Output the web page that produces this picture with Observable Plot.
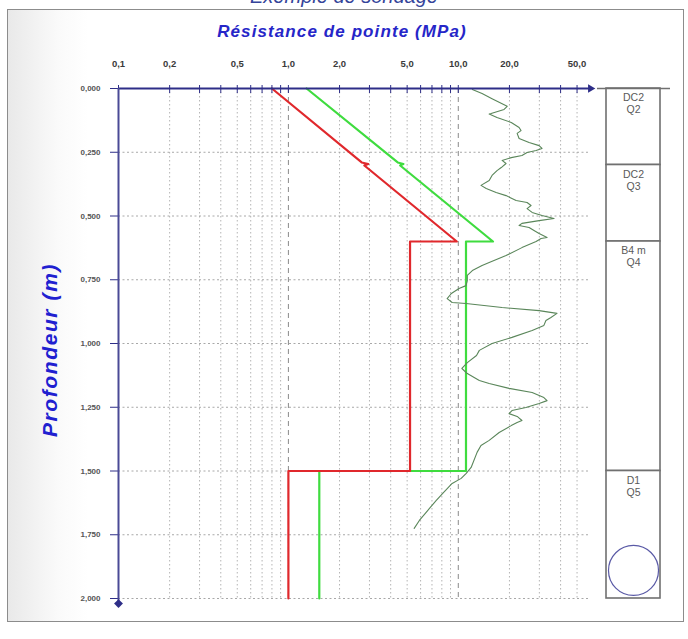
<!DOCTYPE html>
<html><head><meta charset="utf-8">
<script src="https://cdn.jsdelivr.net/npm/d3@7"></script>
<script src="https://cdn.jsdelivr.net/npm/@observablehq/plot@0.6"></script>
<style>
body{margin:0;background:#fff;font-family:"Liberation Sans",Arial,sans-serif;}
#wrap{position:relative;width:688px;height:639px;overflow:hidden;background:#fff;}
#frame{position:absolute;left:7px;top:9px;width:675px;height:611px;border:1px solid #8c8c8c;background:linear-gradient(to right,#e9e9e9 0,#fafafa 50px,#fff 80px);}
#top{position:absolute;left:0;width:688px;top:-14px;text-align:center;font-size:20px;line-height:20px;font-style:italic;color:#34449a;}
#xlab{position:absolute;left:0;width:684px;top:22px;text-align:center;font-size:17px;font-weight:bold;font-style:italic;color:#2626c8;letter-spacing:1.1px;}
#ylab{position:absolute;left:50px;top:350px;transform:translate(-50%,-50%) rotate(-90deg);white-space:nowrap;font-size:21px;font-weight:bold;font-style:italic;color:#2020d0;letter-spacing:1.6px;}
.plot{position:absolute;top:0;}
</style></head>
<body>
<div id="wrap">
  <div id="frame"></div>
  <div id="top">Exemple de sondage</div>
  <div id="xlab">Résistance de pointe (MPa)</div>
  <div id="ylab">Profondeur (m)</div>
</div>
<script>
// ---- data ----
const xTicks = [0.1,0.2,0.3,0.4,0.5,0.6,0.7,0.8,0.9,1,2,3,4,5,6,7,8,9,10,20,30,40,50];
const xLabels = [0.1,0.2,0.5,1,2,5,10,20,50];
const decadeLines = [1,10];
const yTicks = [0,0.25,0.5,0.75,1.0,1.25,1.5,1.75,2.0];

const redDepth = [0, 0.29, 0.296, 0.302, 0.6, 0.6, 1.5, 1.5, 2.0];
const redQc    = [0.8, 2.7, 2.95, 2.8, 9.8, 5.2, 5.2, 1.0, 1.0];
const greenDepth = [0, 0.29, 0.296, 0.302, 0.6, 0.6, 1.5, 1.5, 2.0];
const greenQc    = [1.28, 4.4, 4.75, 4.55, 16.0, 11.1, 11.1, 1.52, 1.52];

const traceDepth = [0.004,0.02,0.04,0.07,0.082,0.098,0.10,0.114,0.133,0.153,0.165,0.176,0.196,0.212,0.224,0.235,0.243,0.251,0.263,0.271,0.282,0.294,0.31,0.322,0.341,0.361,0.38,0.392,0.408,0.42,0.439,0.447,0.459,0.471,0.486,0.498,0.51,0.518,0.529,0.537,0.545,0.557,0.569,0.584,0.588,0.6,0.624,0.655,0.682,0.694,0.714,0.733,0.753,0.773,0.784,0.804,0.824,0.839,0.843,0.859,0.871,0.882,0.898,0.91,0.929,0.949,0.976,1.0,1.027,1.047,1.075,1.098,1.118,1.145,1.157,1.176,1.192,1.212,1.224,1.235,1.251,1.263,1.275,1.286,1.302,1.31,1.322,1.349,1.38,1.4,1.427,1.486,1.51,1.529,1.549,1.588,1.616,1.655,1.694,1.725];
const traceQc = [12.1,13.8,15.8,19.4,18.6,15.6,15.2,16.9,20.5,22.8,23.4,22.2,22.8,26.1,29.9,31.1,28.7,25.4,23.7,20.5,18.1,19.1,17.9,16.9,15.8,15.2,13.6,14.6,16.7,19.1,21.9,25.4,26.8,25.4,27.2,31.1,36.6,29.9,23.7,22.8,26.1,27.9,29.9,33.3,30.7,28.7,23.7,19.1,15.2,13.8,12.1,11.3,11.3,11.1,10.1,9.1,8.6,9.2,11.1,18.1,29.9,38.1,35.1,32.8,31.9,27.2,20.7,15.8,13.3,12.8,11.3,10.5,11.3,13.3,15.2,19.9,27.2,31.9,33.3,29.9,25.0,20.7,19.9,22.2,23.7,22.2,20.5,17.4,15.2,13.6,12.9,11.9,11.1,10.4,9.2,8.1,7.4,6.6,5.9,5.5];

const layerTop = [0, 0.3, 0.6, 1.5];
const layerBottom = [0.3, 0.6, 1.5, 2.0];
const layerCode = ["DC2","DC2","B4 m","D1"];
const layerClass = ["Q2","Q3","Q4","Q5"];
const endMarkerDepth = 1.89;

// ---- tables ----
const red = redDepth.map((z,i)=>({z, q: redQc[i]}));
const green = greenDepth.map((z,i)=>({z, q: greenQc[i]}));
const trace = traceDepth.map((z,i)=>({z, q: traceQc[i]}));
const layers = layerTop.map((t,i)=>({top:t, bottom:layerBottom[i], code:layerCode[i], cls:layerClass[i]}));

const fmt1 = d => d.toFixed(1).replace(".", ",");
const fmt3 = d => d.toFixed(3).replace(".", ",");
const navy = "#2e2e88";
const minor = xTicks.filter(d => !decadeLines.includes(d) && d !== 0.1);

const main = Plot.plot({
  width: 688, height: 639,
  marginLeft: 118, marginRight: 98, marginTop: 88, marginBottom: 41,
  style: {fontFamily: "'Liberation Sans', Arial, sans-serif", background: "transparent", overflow: "visible"},
  x: {type: "log", domain: [0.1, 60], axis: null},
  y: {domain: [0, 2], reverse: true, axis: null},
  marks: [
    Plot.ruleX(minor, {y1: 0, y2: 2, stroke: "#b4b4b4", strokeDasharray: "1.5,2.5", strokeWidth: 1}),
    Plot.ruleX(decadeLines, {y1: 0, y2: 2, stroke: "#8a8a8a", strokeDasharray: "5,4", strokeWidth: 1}),
    Plot.ruleY(yTicks.slice(1), {x1: 0.1, x2: 60, stroke: "#a8a8a8", strokeDasharray: "2,2.5", strokeWidth: 1}),
    Plot.line(green, {x: "q", y: "z", stroke: "#3fdc3f", strokeWidth: 2.2}),
    Plot.line(red, {x: "q", y: "z", stroke: "#e0282c", strokeWidth: 2.2}),
    Plot.line(trace, {x: "q", y: "z", stroke: "#5a865a", strokeWidth: 1.1}),
    Plot.axisX(xTicks, {anchor: "top", tickSize: 8, dy: 4, tickFormat: () => "", stroke: navy, label: null}),
    Plot.text(xLabels, {x: d => d, y: 0, dy: -25, text: fmt1, fontSize: 9.5, fontWeight: "bold", fill: "#3a3a3a", letterSpacing: "0.5px"}),
    Plot.axisY(yTicks, {anchor: "left", tickSize: 8, tickPadding: 10, tickFormat: fmt3, fontSize: 8, fontWeight: "bold", fill: "#555", stroke: navy, label: null, letterSpacing: "0.6px"}),
    Plot.ruleY([0], {x1: 0.1, x2: 60, stroke: navy, strokeWidth: 2}),
    Plot.ruleX([0.1], {y1: 0, y2: 2.02, stroke: "#4a4a96", strokeWidth: 2}),
    Plot.dot([60], {x: d => d, y: 0, symbol: "triangle2", rotate: 90, r: 4, fill: navy, stroke: "none"}),
    Plot.dot([2.02], {x: 0.1, y: d => d, symbol: "diamond2", r: 4, fill: navy, stroke: "none"})
  ]
});
main.classList.add("plot");
main.style.left = "0px";
document.getElementById("wrap").appendChild(main);

const column = Plot.plot({
  width: 90, height: 639,
  marginLeft: 16, marginRight: 20, marginTop: 88, marginBottom: 41,
  style: {fontFamily: "'Liberation Sans', Arial, sans-serif", background: "transparent", overflow: "visible"},
  x: {domain: [0, 1], axis: null},
  y: {domain: [0, 2], reverse: true, axis: null},
  marks: [
    Plot.rect(layers, {x1: 0, x2: 1, y1: "top", y2: "bottom", fill: "white", stroke: "#707070", strokeWidth: 1.6}),
    Plot.ruleY([0], {insetLeft: -9, insetRight: -10, stroke: "#707070", strokeWidth: 1.4}),
    Plot.text(layers, {x: 0.5, y: "top", text: d => d.code + "\n" + d.cls, lineAnchor: "top", dy: 4, fontSize: 10.5, lineHeight: 1.15, fill: "#5a5a5a"}),
    Plot.dot([endMarkerDepth], {x: 0.5, y: d => d, r: 25, stroke: "#5a5aa6", strokeWidth: 1.2, fill: "none"})
  ]
});
column.classList.add("plot");
column.style.left = "590px";
document.getElementById("wrap").appendChild(column);
</script>
</body></html>
